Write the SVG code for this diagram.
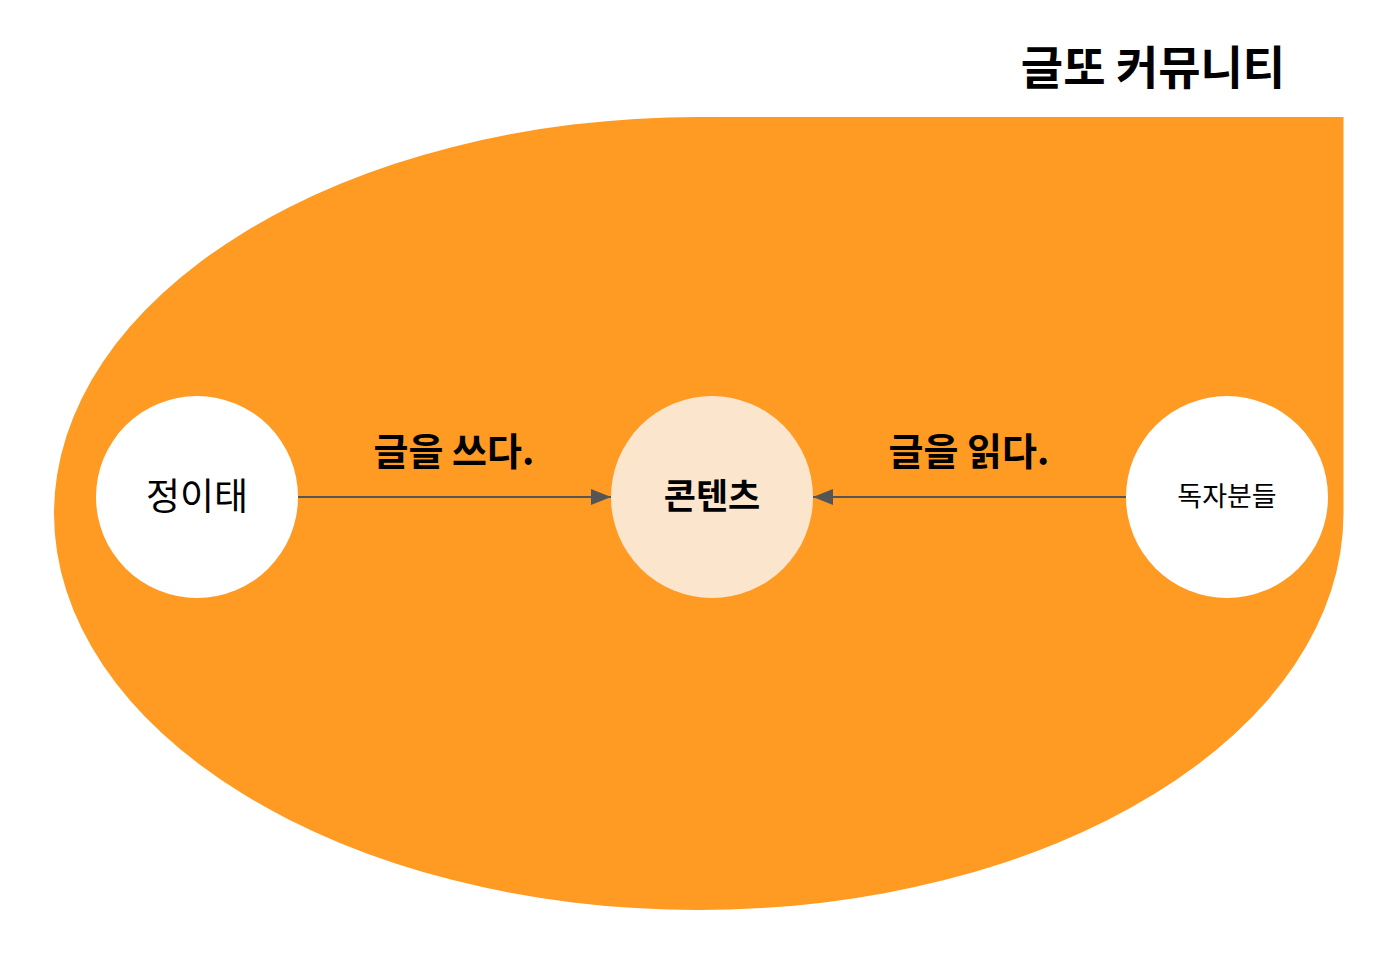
<svg xmlns="http://www.w3.org/2000/svg" width="1400" height="956" viewBox="0 0 1400 956">
<defs>
<style>
.t{font-family:"Noto Sans CJK KR","Noto Sans",sans-serif;fill:#000;text-anchor:middle;}
.b{font-weight:bold;}
.conn{stroke:#555;stroke-width:2;fill:none;}
</style>
<marker id="ah" markerWidth="20" markerHeight="16" refX="20" refY="8" orient="auto" markerUnits="userSpaceOnUse">
<path d="M0,0 L20,8 L0,16 Z" fill="#555"/>
</marker>
</defs>
<rect width="1400" height="956" fill="#fff"/>
<g id="community">
<path d="M698.5 117 L1343.5 117 L1343.5 513.5 A645 396.5 0 0 1 698.5 910 A644.5 396.5 0 0 1 54 513.5 A644.5 396.5 0 0 1 698.5 117 Z" fill="#FF9A23"/>
<text class="t b" x="1153" y="84" font-size="46">글또 커뮤니티</text>
</g>
<g id="connectors">
<line class="conn" x1="298" y1="497" x2="611" y2="497" marker-end="url(#ah)"/>
<line class="conn" x1="1126" y1="497" x2="813" y2="497" marker-end="url(#ah)"/>
<text class="t b" x="454" y="465" font-size="38">글을 쓰다.</text>
<text class="t b" x="969" y="465" font-size="38">글을 읽다.</text>
</g>
<g id="node-jung">
<circle cx="197" cy="497" r="101" fill="#fff"/>
<text class="t" x="197" y="510" font-size="37">정이태</text>
</g>
<g id="node-content">
<circle cx="712" cy="497" r="101" fill="#FCE5CD"/>
<text class="t b" x="712" y="509" font-size="35">콘텐츠</text>
</g>
<g id="node-readers">
<circle cx="1227" cy="497" r="101" fill="#fff"/>
<text class="t" x="1227" y="506" font-size="27">독자분들</text>
</g>
</svg>
